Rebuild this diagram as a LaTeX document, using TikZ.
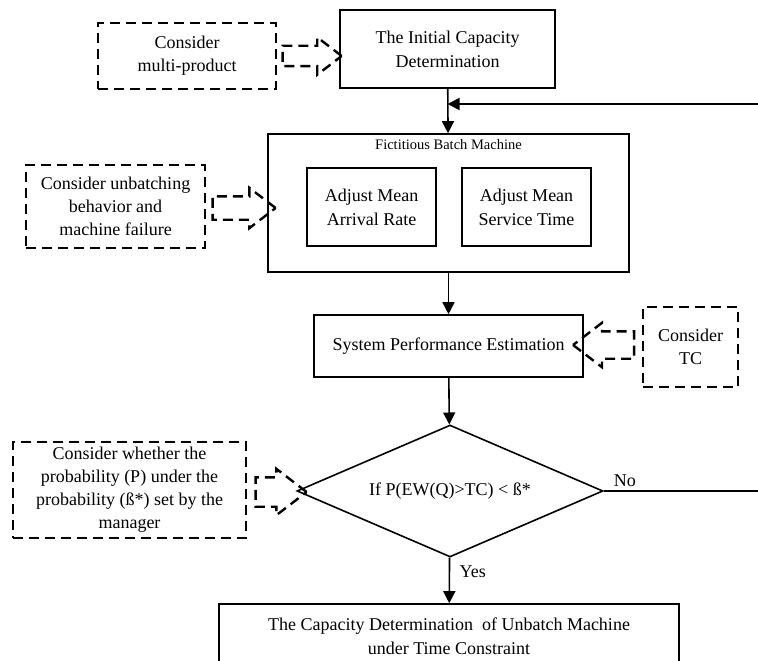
\documentclass[tikz,border=0pt]{standalone}
\usepackage{fontspec}
\setmainfont{Liberation Serif}
\usetikzlibrary{shapes.geometric,shapes.arrows,arrows.meta,positioning}

\begin{document}
\begin{tikzpicture}[x=1pt,y=-1pt,
  box/.style={draw,line width=1.6pt,align=center,inner sep=0pt,font=\fontsize{18}{24}\selectfont},
  note/.style={draw,line width=2.4pt,dash pattern=on 10pt off 6pt,align=center,inner sep=0pt,font=\fontsize{18}{23}\selectfont},
  hollow/.style={single arrow,draw,line width=2.4pt,dash pattern=on 10pt off 6pt,inner xsep=0pt,
    single arrow tip angle=75,single arrow head extend=8.5pt},
  >={Triangle[length=12pt,width=12pt]}]
  \clip (0,0) rectangle (758,661);

  % main flow
  \node[box,minimum width=215pt,minimum height=78pt] (init) at (447.5,49) {The Initial Capacity\\Determination};
  \node[box,minimum width=361pt,minimum height=138pt] (fbm) at (448.5,203) {};
  \node[font=\fontsize{14.5}{16}\selectfont] (fbmtitle) at (448.5,145) {Fictitious Batch Machine};
  \foreach \t [count=\n] in {Arrival Rate,Service Time}
    \node[box,minimum width=129pt,minimum height=78pt] (adj\n) at (216.5+\n*155,207) {Adjust Mean\\\t};
  \node[box,minimum width=269pt,minimum height=62pt] (spe) at (448.5,346) {System Performance Estimation};
  \node[box,diamond,aspect=2.3,minimum width=306pt,minimum height=132pt] (dec) at (450,491) {If P(EW(Q)>TC) < ß*};
  \node[box,minimum width=460pt,minimum height=64pt] (cap) at (449,636) {The Capacity Determination~ of Unbatch Machine\\under Time Constraint};

  \coordinate (fbin) at (790,104);
  \draw[->,line width=1.6pt] (init) -- (fbm);
  \draw[->,line width=1.6pt] (fbm) -- (spe);
  \draw[->,line width=1.6pt] (spe) -- (dec);
  \draw[->,line width=1.6pt] (dec) -- node[right=6pt,pos=0.3,font=\fontsize{18}{20}\selectfont] {Yes} (cap);
  \draw[->,line width=1.6pt] (dec.east) -- node[above right=0pt and 6pt,pos=0,font=\fontsize{18}{20}\selectfont] {No} (fbin |- dec.east)
    -- (fbin) -- (init.south |- fbin);

  % considerations
  \node[note,minimum width=178pt,minimum height=66pt] (multi) at (187,56) {Consider\\multi-product};
  \node[note,minimum width=179pt,minimum height=83pt] (unbatch) at (115.5,206.5) {Consider unbatching\\behavior and\\machine failure};
  \node[note,minimum width=95pt,minimum height=80pt] (tc) at (690.5,347) {Consider\\TC};
  \node[note,minimum width=233pt,minimum height=96pt] (prob) at (129.5,490) {Consider whether the\\probability (P) under the\\probability (ß*) set by the\\manager};

  \node[hollow,inner ysep=9pt,minimum height=59pt,minimum width=36pt] (a1) at (305.5,56) {};
  \node[hollow,inner ysep=10.5pt,minimum height=63pt,minimum width=36pt] (a2) at (236.5,208) {};
  \node[hollow,inner ysep=12.5pt,minimum height=61pt,minimum width=42pt,shape border rotate=180] (a3) at (612.5,345) {};
  \node[hollow,inner ysep=13.5pt,minimum height=51pt,minimum width=44pt] (a4) at (271.5,492) {};
\end{tikzpicture}
\end{document}
